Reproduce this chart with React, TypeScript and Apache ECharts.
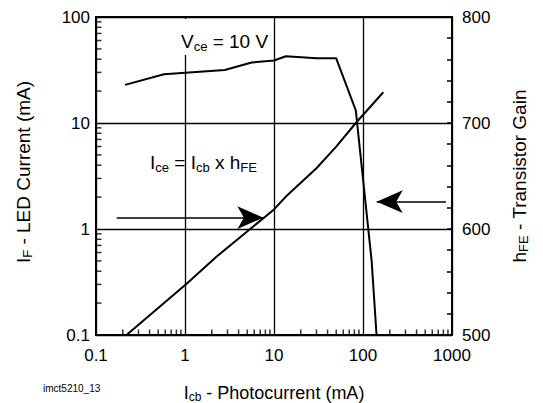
import React, { useEffect, useRef } from "react";
import * as echarts from "echarts";

// hFE (transistor gain) curve, right axis
const hfeCurrent = [0.212, 0.58, 2.8, 5.6, 10, 13.6, 30, 50, 83, 125, 142];
const hfeValues = [736, 746, 750, 757, 759, 763, 761, 761, 712, 570, 500];
// IF (LED current) curve, left axis
const ifCurrent = [0.22, 1.02, 2.27, 5.4, 10, 13.9, 30, 50, 83, 169];
const ifValues = [0.1, 0.3, 0.55, 1.0, 1.53, 2.06, 3.74, 5.98, 10, 19.5];
// annotation arrows (data coordinates: Icb, IF)
const arrowLeft = [[0.171, 1.28], [7.6, 1.28]];
const arrowRight = [[857, 1.81], [142.6, 1.81]];
// minor tick positions for log axes
const xDecades = [0.1, 1, 10, 100];
const yDecades = [0.1, 1, 10];
const minorSteps = [2, 3, 4, 5, 6, 7, 8, 9];

const FONT = '"Liberation Sans", Arial, Helvetica, sans-serif';

function fmt(v: number) {
  return String(parseFloat(Number(v).toPrecision(3)));
}

export default function App() {
  const ref = useRef<HTMLDivElement>(null);
  useEffect(() => {
    if (!ref.current) return;
    const chart = echarts.init(ref.current, null, { renderer: "svg" });
    const xMinor: number[][] = [];
    xDecades.forEach((d) => minorSteps.forEach((s) => xMinor.push([+(d * s).toPrecision(3), 0.1])));
    const yMinor: number[][] = [];
    yDecades.forEach((d) => minorSteps.forEach((s) => yMinor.push([0.1, +(d * s).toPrecision(3)])));

    const richAxis = {
      m: { fontSize: 18, fontFamily: FONT, color: "#000" },
      s: { fontSize: 12, fontFamily: FONT, color: "#000", padding: [9, 0, 0, 0] },
    };
    const richAxisY = {
      m: { fontSize: 19, fontFamily: FONT, color: "#000" },
      s: { fontSize: 13, fontFamily: FONT, color: "#000", padding: [9, 0, 0, 0] },
    };
    const richG = {
      m: { fontSize: 19, fontFamily: FONT, fill: "#000" },
      s: { fontSize: 13, fontFamily: FONT, fill: "#000", padding: [10, 0, 0, 0] },
    };
    const black = "#000";
    const option: any = {
      animation: false,
      backgroundColor: "#fff",
      grid: {
        left: 96,
        right: 91,
        top: 17,
        bottom: 68,
        outerBoundsMode: "none",
        show: true,
        borderColor: black,
        borderWidth: 2,
        backgroundColor: "transparent",
      },
      xAxis: {
        type: "log",
        logBase: 10,
        min: 0.1,
        max: 1000,
        axisLine: { show: true, lineStyle: { color: black, width: 2 } },
        axisTick: { show: false },
        axisLabel: {
          color: black,
          fontSize: 17,
          fontFamily: FONT,
          margin: 12,
          formatter: (v: number) => fmt(v),
        },
        splitLine: { show: true, lineStyle: { color: black, width: 1.3 } },
        name: "{m|I}{s|cb}{m| - Photocurrent (mA)}",
        nameLocation: "middle",
        nameGap: 47,
        nameTextStyle: { rich: richAxis },
      },
      yAxis: [
        {
          type: "log",
          logBase: 10,
          min: 0.1,
          max: 100,
          position: "left",
          axisLine: { show: true, lineStyle: { color: black, width: 2 } },
          axisTick: { show: false },
          axisLabel: {
            color: black,
            fontSize: 17,
            fontFamily: FONT,
            margin: 6,
            formatter: (v: number) => fmt(v),
          },
          splitLine: { show: true, lineStyle: { color: black, width: 1.3 } },
          name: "{m|I}{s|F}{m| - LED Current (mA)}",
          nameLocation: "middle",
          nameRotate: 90,
          nameGap: 62,
          nameTextStyle: { rich: richAxisY, padding: [0, 0, 0, 8] },
        },
        {
          type: "value",
          min: 500,
          max: 800,
          interval: 100,
          position: "right",
          axisLine: { show: true, lineStyle: { color: black, width: 2 } },
          axisTick: { show: true, inside: true, length: 5, lineStyle: { color: black, width: 1.5 } },
          minorTick: { show: true, splitNumber: 5, length: 5, lineStyle: { color: black, width: 1.5 } },
          axisLabel: { color: black, fontSize: 17, fontFamily: FONT, margin: 10 },
          splitLine: { show: false },
          name: "{m|h}{s|FE}{m| - Transistor Gain}",
          nameLocation: "middle",
          nameRotate: 90,
          nameGap: 56,
          nameTextStyle: { rich: richAxisY },
        },
      ],
      series: [
        {
          type: "line",
          yAxisIndex: 1,
          data: hfeCurrent.map((x, i) => [x, hfeValues[i]]),
          symbol: "none",
          lineStyle: { color: black, width: 2 },
          z: 5,
        },
        {
          type: "line",
          yAxisIndex: 0,
          data: ifCurrent.map((x, i) => [x, ifValues[i]]),
          symbol: "none",
          lineStyle: { color: black, width: 2 },
          z: 5,
          markLine: {
            silent: true,
            symbol: ["none", "arrow"],
            symbolSize: [17, 26],
            label: { show: false },
            lineStyle: { color: black, width: 1.5, type: "solid" },
            itemStyle: { color: black },
            emphasis: { disabled: true },
            data: [
              [{ coord: arrowLeft[0] }, { coord: arrowLeft[1] }],
              [{ coord: arrowRight[0] }, { coord: arrowRight[1] }],
            ],
          },
        },
        {
          type: "scatter",
          yAxisIndex: 0,
          data: xMinor,
          symbol: "rect",
          symbolSize: [1.5, 5],
          symbolOffset: [0, -3],
          itemStyle: { color: black },
        },
        {
          type: "scatter",
          yAxisIndex: 0,
          data: yMinor,
          symbol: "rect",
          symbolSize: [5, 1.5],
          symbolOffset: [3, 0],
          itemStyle: { color: black },
        },
      ],
      graphic: [
        {
          type: "rect",
          z: 100,
          shape: { x: 177, y: 19, width: 92, height: 36 },
          style: { fill: "#fff" },
        },
        {
          type: "text",
          z: 101,
          x: 181,
          y: 30,
          style: {
            text: "{m|V}{s|ce}{m| = 10 V}",
            rich: richG,
            verticalAlign: "top",
          },
        },
        {
          type: "text",
          z: 101,
          x: 150,
          y: 151,
          style: {
            text: "{m|I}{s|ce}{m| = I}{s|cb}{m| x h}{s|FE}",
            rich: richG,
            verticalAlign: "top",
          },
        },
        {
          type: "text",
          z: 101,
          x: 43,
          y: 383,
          style: {
            text: "imct5210_13",
            fontSize: 10,
            fontFamily: FONT,
            fill: "#000",
          },
        },
      ],
    };
    chart.setOption(option);
    return () => chart.dispose();
  }, []);
  return <div ref={ref} style={{ width: 543, height: 403, position: "absolute", left: 0, top: 0 }} />;
}
